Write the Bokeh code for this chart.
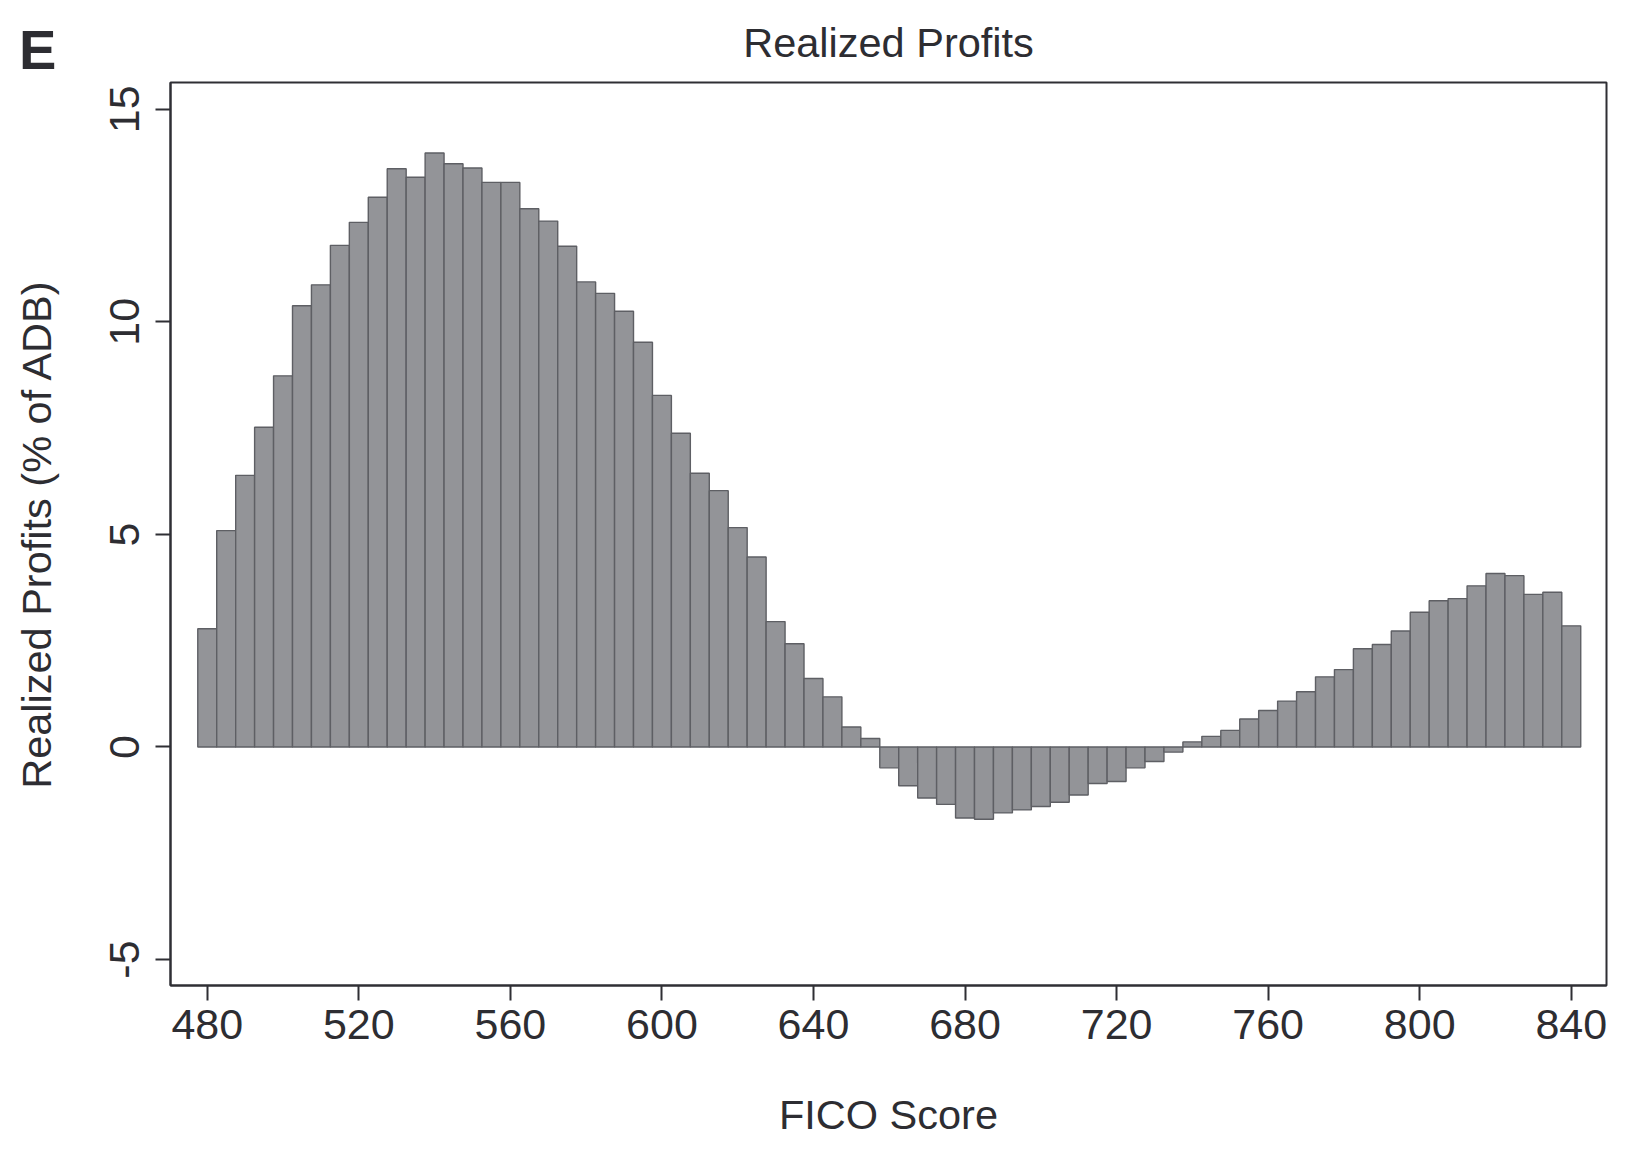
from bokeh.plotting import figure
from bokeh.models import Range1d, FixedTicker, ColumnDataSource, Div
from bokeh.layouts import column
from bokeh.embed import file_html
from bokeh.resources import INLINE

# ---- data ----
fico_scores = [480, 485, 490, 495, 500, 505, 510, 515, 520, 525, 530, 535, 540, 545, 550,
               555, 560, 565, 570, 575, 580, 585, 590, 595, 600, 605, 610, 615, 620, 625,
               630, 635, 640, 645, 650, 655, 660, 665, 670, 675, 680, 685, 690, 695, 700,
               705, 710, 715, 720, 725, 730, 735, 740, 745, 750, 755, 760, 765, 770, 775,
               780, 785, 790, 795, 800, 805, 810, 815, 820, 825, 830, 835, 840]
realized_profits = [2.78, 5.09, 6.39, 7.52, 8.73, 10.38, 10.87, 11.80, 12.34, 12.93, 13.60, 13.40,
                    13.97, 13.72, 13.62, 13.28, 13.28, 12.66, 12.37, 11.78, 10.94, 10.67, 10.25,
                    9.52, 8.27, 7.38, 6.44, 6.03, 5.16, 4.47, 2.95, 2.43, 1.61, 1.18, 0.47, 0.20,
                    -0.49, -0.91, -1.20, -1.35, -1.67, -1.70, -1.55, -1.48, -1.40, -1.30, -1.13,
                    -0.86, -0.81, -0.49, -0.34, -0.12, 0.12, 0.25, 0.39, 0.66, 0.86, 1.08, 1.30,
                    1.65, 1.82, 2.31, 2.41, 2.73, 3.17, 3.44, 3.49, 3.79, 4.08, 4.03, 3.59, 3.64,
                    2.85]
bin_width = 5
x_ticks = [480, 520, 560, 600, 640, 680, 720, 760, 800, 840]
y_ticks = [-5, 0, 5, 10, 15]
y_tick_labels = {-5: "-5", 0: "0", 5: "5", 10: "10", 15: "15"}

FONT = "Liberation Sans"
TXT = "#2d2d32"
AX = "#2f2f34"

source = ColumnDataSource(dict(x=fico_scores, top=realized_profits))

p = figure(width=1624, height=1140, output_backend="svg", toolbar_location=None,
           x_range=Range1d(470.3, 849.3), y_range=Range1d(-5.61, 15.63),
           min_border_left=170, min_border_right=18, min_border_top=80,
           min_border_bottom=155)

p.vbar(x="x", top="top", bottom=0, width=bin_width, source=source,
       fill_color="#939498", line_color="#5e5f64", line_width=1.4)

p.grid.visible = False
p.background_fill_color = "white"
p.border_fill_color = "white"
p.outline_line_color = AX
p.outline_line_width = 2

p.title.text = "Realized Profits"
p.title.align = "center"
p.title.text_font = FONT
p.title.text_font_size = "41.5px"
p.title.text_font_style = "normal"
p.title.text_color = TXT
p.title.standoff = 33

for ax in (p.xaxis[0], p.yaxis[0]):
    ax.axis_line_color = AX
    ax.axis_line_width = 2
    ax.major_tick_line_color = AX
    ax.major_tick_line_width = 2
    ax.major_tick_out = 15
    ax.major_tick_in = 0
    ax.minor_tick_out = 0
    ax.minor_tick_in = 0
    ax.major_label_text_font = FONT
    ax.major_label_text_font_size = "43px"
    ax.major_label_text_color = TXT
    ax.axis_label_text_font = FONT
    ax.axis_label_text_font_size = "41.5px"
    ax.axis_label_text_font_style = "normal"
    ax.axis_label_text_color = TXT

p.xaxis.ticker = FixedTicker(ticks=x_ticks)
p.yaxis.ticker = FixedTicker(ticks=y_ticks)
p.yaxis.major_label_overrides = y_tick_labels
p.xaxis.axis_label = "FICO Score"
p.yaxis.axis_label = "Realized Profits (% of ADB)"
p.xaxis.major_label_standoff = 9
p.xaxis.axis_label_standoff = 49
p.yaxis.major_label_orientation = "vertical"
p.yaxis.major_label_standoff = 16
p.yaxis.axis_label_standoff = 48

# panel letter "E" (annotations outside the frame are clipped, so use an overlaid Div)
panel_letter = Div(text="E", width=40, height=60,
                   styles={"position": "absolute", "left": "14px", "top": "17px",
                           "font-family": FONT, "font-size": "56px", "font-weight": "bold",
                           "color": TXT, "z-index": "10", "line-height": "1"})

layout = column(p, panel_letter)
open("out.html", "w").write(file_html(layout, INLINE))
